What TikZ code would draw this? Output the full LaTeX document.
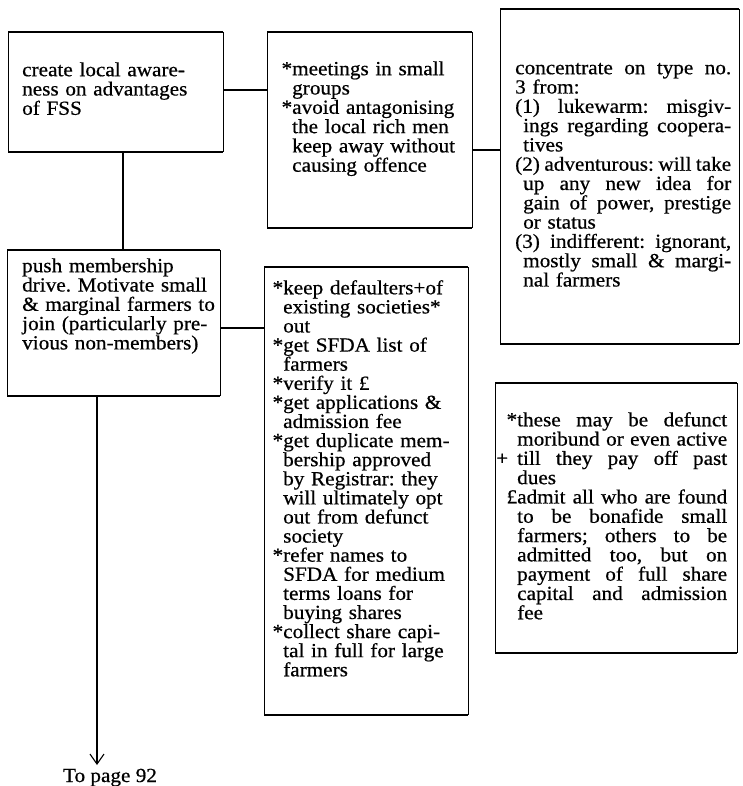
\documentclass[tikz,border=0pt]{standalone}
\usepackage{fontspec}
\setmainfont{Liberation Serif}[FakeStretch=1.06,FakeBold=0.6]
\usetikzlibrary{arrows.meta}
\frenchspacing

% strut that fixes the height of the first line of every text block
\newcommand\topstrut{\rule{0pt}{14pt}}
% a line of given width (pt) with its spaces stretched to fill it
\newcommand\justline[2]{\makebox[#1pt][s]{\spaceskip=0.2em plus 1fil\relax
  \xspaceskip=0.26em plus 1fil\relax #2}}
% a mark hanging into the left margin of a line
\newcommand\hang[1]{\leavevmode\llap{#1}}
% open rectangle: heavy top and bottom rules, lighter sides
\newcommand\panelframe[1]{%
  \draw[edgeh] (#1.north west) -- (#1.north east);
  \draw[edgeh] (#1.south west) -- (#1.south east);
  \draw[edgev] (#1.north west) -- (#1.south west);
  \draw[edgev] (#1.north east) -- (#1.south east);}

\begin{document}
\begin{tikzpicture}[x=1pt,y=-1pt,
  edgeh/.style={line width=1.7pt},
  edgev/.style={line width=1.0pt},
  link/.style={line width=1.1pt},
  panel/.style={anchor=north west, inner sep=0pt, outer sep=0pt},
  txt/.style={anchor=north west, inner sep=0pt, align=left, text width=#1,
              font=\fontsize{20}{19.3}\selectfont},
  txt/.default=260pt]
\useasboundingbox (0,0) rectangle (743,786);

% ---- frames ----
\node[panel, minimum width=215pt, minimum height=120pt] (A) at (8,32) {};
\node[panel, minimum width=205pt, minimum height=196pt] (B) at (267,32) {};
\node[panel, minimum width=239pt, minimum height=335pt] (C) at (500,9) {};
\node[panel, minimum width=213pt, minimum height=146pt] (D) at (7,250) {};
\node[panel, minimum width=204pt, minimum height=448pt] (E) at (264,267) {};
\node[panel, minimum width=242pt, minimum height=270pt] (F) at (495,383) {};
\panelframe{A}\panelframe{B}\panelframe{C}
\panelframe{D}\panelframe{E}\panelframe{F}

% ---- texts ----
\node[txt] (tA) at (22,62) {\topstrut create local aware-\\
ness on advantages\\
of FSS};

\node[txt] (tB) at (292,61) {\topstrut\hang{*}meetings in small\\
groups\\
\hang{*}avoid antagonising\\
the local rich men\\
keep away without\\
causing offence};

\node[txt] (tC) at (515,60) {\topstrut\justline{216}{concentrate on type no.}\\
3 from:\\
\justline{216}{(1) lukewarm: misgiv-}\\
\hspace*{8pt}\justline{208}{ings regarding coopera-}\\
\hspace*{8pt}tives\\
\justline{216}{(2) adventurous: will take}\\
\hspace*{8pt}\justline{208}{up any new idea for}\\
\hspace*{8pt}\justline{208}{gain of power, prestige}\\
\hspace*{8pt}or status\\
\justline{216}{(3) indifferent: ignorant,}\\
\hspace*{8pt}\justline{208}{mostly small \& margi-}\\
\hspace*{8pt}nal farmers};

\node[txt] (tD) at (22,258) {\topstrut push membership\\
drive. Motivate small\\
\& marginal farmers to\\
join (particularly pre-\\
vious non-members)};

\node[txt, font=\fontsize{20}{19.1}\selectfont] (tE) at (283,280) {\topstrut\hang{*}keep defaulters+of\\
existing societies*\\
out\\
\hang{*}get SFDA list of\\
farmers\\
\hang{*}verify it £\\
\hang{*}get applications \&\\
admission fee\\
\hang{*}get duplicate mem-\\
bership approved\\
by Registrar: they\\
will ultimately opt\\
out from defunct\\
society\\
\hang{*}refer names to\\
SFDA for medium\\
terms loans for\\
buying shares\\
\hang{*}collect share capi-\\
tal in full for large\\
farmers};

\node[txt] (tF) at (517,412) {\topstrut\hang{*}\justline{210}{these may be defunct}\\
\justline{210}{moribund or even active}\\
\hang{+\kern 9pt}\justline{210}{till they pay off past}\\
dues\\
\hang{£}\justline{210}{admit all who are found}\\
\justline{210}{to be bonafide small}\\
\justline{210}{farmers; others to be}\\
\justline{210}{admitted too, but on}\\
\justline{210}{payment of full share}\\
\justline{210}{capital and admission}\\
fee};

% ---- connectors ----
\coordinate (ab) at (0,90);
\coordinate (bc) at (0,150);
\coordinate (ad) at (123,0);
\coordinate (de) at (0,328);
\coordinate (tip) at (97,765);
\draw[link] (A.east |- ab) -- (B.west |- ab);
\draw[link] (B.east |- bc) -- (C.west |- bc);
\draw[link] (A.south -| ad) -- (D.north -| ad);
\draw[link] (D.east |- de) -- (E.west |- de);
\draw[link, -{Straight Barb[length=10pt,width=14pt]}] (D.south -| tip) -- (tip);

\node[anchor=base, inner sep=0pt, font=\fontsize{20}{19.3}\selectfont] (pg) at (110,782) {To page 92};
\end{tikzpicture}
\end{document}
